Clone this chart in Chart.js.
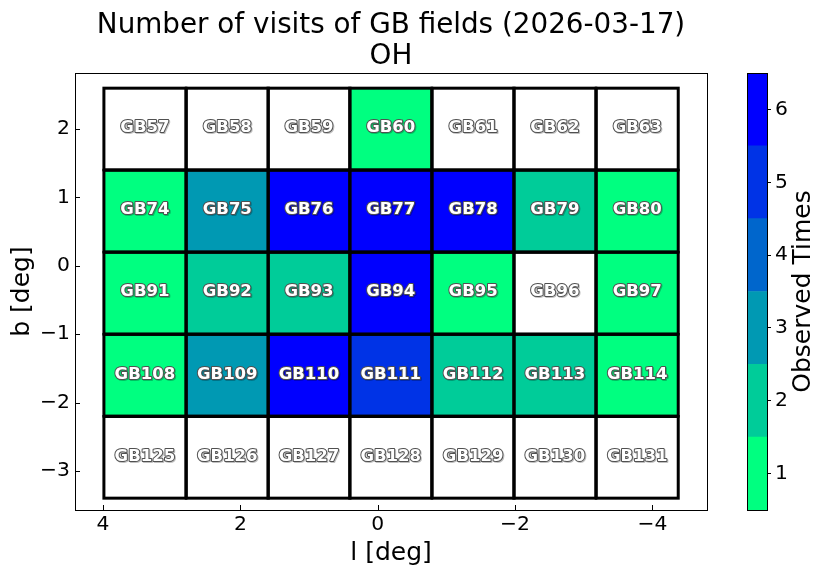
<!DOCTYPE html>
<html>
<head>
<meta charset="utf-8">
<script src="https://cdn.jsdelivr.net/npm/chart.js@4.4.1/dist/chart.umd.min.js"></script>
<style>
  html, body { margin: 0; padding: 0; background: #ffffff; }
  #wrap { position: relative; width: 822px; height: 575px; overflow: hidden; }
  #main { position: absolute; left: 0; top: 0; }
  #cbar { position: absolute; left: 700px; top: 0; }
</style>
</head>
<body>
<div id="wrap">
  <canvas id="main" width="822" height="575"></canvas>
  <canvas id="cbar" width="122" height="575"></canvas>
</div>
<script>
// ---- data ----
const titleLines = ['Number of visits of GB fields (2026-03-17)', 'OH'];
const lCenters = [3.39, 2.19, 1.00, -0.19, -1.39, -2.58, -3.78];   // galactic l of column centres [deg]
const bCenters = [2.0, 0.8, -0.4, -1.6, -2.8];                       // galactic b of row centres [deg]
const fieldIds = [
  [57, 58, 59, 60, 61, 62, 63],
  [74, 75, 76, 77, 78, 79, 80],
  [91, 92, 93, 94, 95, 96, 97],
  [108, 109, 110, 111, 112, 113, 114],
  [125, 126, 127, 128, 129, 130, 131]
];
const visits = [
  [0, 0, 0, 1, 0, 0, 0],
  [1, 3, 6, 6, 6, 2, 1],
  [1, 2, 2, 6, 1, 0, 1],
  [1, 3, 6, 5, 2, 2, 1],
  [0, 0, 0, 0, 0, 0, 0]
];
const xTicks = [4, 2, 0, -2, -4];
const yTicks = [2, 1, 0, -1, -2, -3];
const cbTicks = [1, 2, 3, 4, 5, 6];
const levelColors = ['#ffffff', '#00ff80', '#00cc99', '#0099b3', '#0066cc', '#0033e6', '#0000ff'];

const CELL = 1.194; // field size [deg]
const FONT = 'DejaVu Sans';

const cells = [];
bCenters.forEach((b, r) => {
  lCenters.forEach((l, c) => {
    cells.push({ x: l, y: b, v: visits[r][c], name: 'GB' + fieldIds[r][c] });
  });
});

const fmt = v => (v < 0 ? '\u2212' + Math.abs(v) : String(v));

const gridPlugin = {
  id: 'gridCells',
  beforeDatasetsDraw(chart) {
    const { ctx, scales: { x, y } } = chart;
    const data = chart.data.datasets[0].data;
    const rect = p => {
      const x0 = x.getPixelForValue(p.x + CELL / 2), x1 = x.getPixelForValue(p.x - CELL / 2);
      const y0 = y.getPixelForValue(p.y + CELL / 2), y1 = y.getPixelForValue(p.y - CELL / 2);
      return [x0, y0, x1 - x0, y1 - y0];
    };
    ctx.save();
    data.forEach(p => {
      ctx.fillStyle = levelColors[p.v];
      ctx.fillRect(...rect(p));
    });
    ctx.strokeStyle = '#000';
    ctx.lineWidth = 3;
    data.forEach(p => ctx.strokeRect(...rect(p)));
    ctx.font = 'bold 16.5px "' + FONT + '"';
    ctx.textAlign = 'center';
    ctx.textBaseline = 'middle';
    ctx.lineJoin = 'round';
    data.forEach(p => {
      const px = x.getPixelForValue(p.x), py = y.getPixelForValue(p.y) - 1;
      ctx.lineWidth = 2;
      ctx.strokeStyle = 'rgba(0,0,0,0.25)';
      ctx.strokeText(p.name, px + 1, py + 1);
      ctx.strokeStyle = '#505050';
      ctx.strokeText(p.name, px, py);
      ctx.fillStyle = '#ffffff';
      ctx.fillText(p.name, px, py);
    });
    ctx.restore();
  },
  afterDraw(chart) {
    const { ctx, chartArea: a, scales: { x, y } } = chart;
    ctx.save();
    ctx.strokeStyle = '#000';
    ctx.lineWidth = 1;
    ctx.strokeRect(Math.round(a.left) + 0.5, Math.round(a.top) + 0.5, Math.round(a.right - a.left), Math.round(a.bottom - a.top));
    ctx.beginPath();
    x.ticks.forEach(t => {
      const px = Math.round(x.getPixelForValue(t.value)) + 0.5;
      ctx.moveTo(px, a.bottom); ctx.lineTo(px, a.bottom - 5);
    });
    y.ticks.forEach(t => {
      const py = Math.round(y.getPixelForValue(t.value)) + 0.5;
      ctx.moveTo(a.left, py); ctx.lineTo(a.left + 5, py);
    });
    ctx.stroke();
    // title
    ctx.fillStyle = '#000';
    ctx.font = '27.8px "' + FONT + '"';
    ctx.textAlign = 'center';
    ctx.textBaseline = 'alphabetic';
    const cx = (a.left + a.right) / 2;
    ctx.fillText(titleLines[0], cx, 33);
    ctx.fillText(titleLines[1], cx, 64);
    ctx.restore();
  }
};

new Chart(document.getElementById('main'), {
  type: 'scatter',
  data: { datasets: [{ data: cells, pointRadius: 0, pointHoverRadius: 0 }] },
  options: {
    responsive: false,
    animation: false,
    events: [],
    layout: { padding: { left: 0, right: 115, top: 73, bottom: 0 } },
    plugins: { legend: { display: false }, tooltip: { enabled: false }, title: { display: false } },
    scales: {
      x: {
        type: 'linear', reverse: true, min: -4.796, max: 4.408,
        afterBuildTicks: s => { s.ticks = xTicks.map(v => ({ value: v })); },
        afterFit: s => { s.height = 65; },
        grid: { display: false, drawTicks: false },
        border: { display: false },
        ticks: { color: '#000', font: { family: FONT, size: 20.3 }, padding: 3, callback: fmt, maxRotation: 0 },
        title: { display: true, text: 'l [deg]', color: '#000', font: { family: FONT, size: 25 }, padding: { top: 0, bottom: 7 } }
      },
      y: {
        type: 'linear', min: -3.570, max: 2.819,
        afterBuildTicks: s => { s.ticks = yTicks.map(v => ({ value: v })); },
        afterFit: s => { s.width = 75; },
        grid: { display: false, drawTicks: false },
        border: { display: false },
        ticks: { color: '#000', font: { family: FONT, size: 20.3 }, padding: 5, callback: fmt },
        title: { display: true, text: 'b [deg]', color: '#000', font: { family: FONT, size: 25 }, padding: { top: 7, bottom: 0 } }
      }
    }
  },
  plugins: [gridPlugin]
});

// ---- colour bar ----
const cbPlugin = {
  id: 'cbFrame',
  afterDraw(chart) {
    const { ctx, chartArea: a } = chart;
    ctx.save();
    ctx.strokeStyle = '#000';
    ctx.lineWidth = 1;
    ctx.strokeRect(Math.round(a.left) + 0.5, Math.round(a.top) + 0.5, Math.round(a.right - a.left), Math.round(a.bottom - a.top));
    ctx.translate(103, (a.top + a.bottom) / 2);
    ctx.rotate(-Math.PI / 2);
    ctx.fillStyle = '#000';
    ctx.font = '25px "' + FONT + '"';
    ctx.textAlign = 'center';
    ctx.textBaseline = 'middle';
    ctx.fillText('Observed Times', 0, 0);
    ctx.restore();
  }
};

new Chart(document.getElementById('cbar'), {
  type: 'bar',
  data: {
    labels: ['cb'],
    datasets: cbTicks.map(k => ({
      data: [[k - 0.5, k + 0.5]],
      backgroundColor: levelColors[k],
      borderWidth: 0,
      grouped: false,
      barPercentage: 1,
      categoryPercentage: 1
    }))
  },
  options: {
    responsive: false,
    animation: false,
    events: [],
    layout: { padding: { left: 47, right: 0, top: 73, bottom: 65 } },
    plugins: { legend: { display: false }, tooltip: { enabled: false } },
    scales: {
      x: { display: false },
      y: {
        position: 'right', min: 0.5, max: 6.5,
        afterBuildTicks: s => { s.ticks = cbTicks.map(v => ({ value: v })); },
        afterFit: s => { s.width = 55; },
        grid: { drawOnChartArea: false, drawTicks: true, tickLength: 4, color: '#000' },
        border: { display: false },
        ticks: { color: '#000', font: { family: FONT, size: 20.3 }, padding: 4 }
      }
    }
  },
  plugins: [cbPlugin]
});
</script>
</body>
</html>
